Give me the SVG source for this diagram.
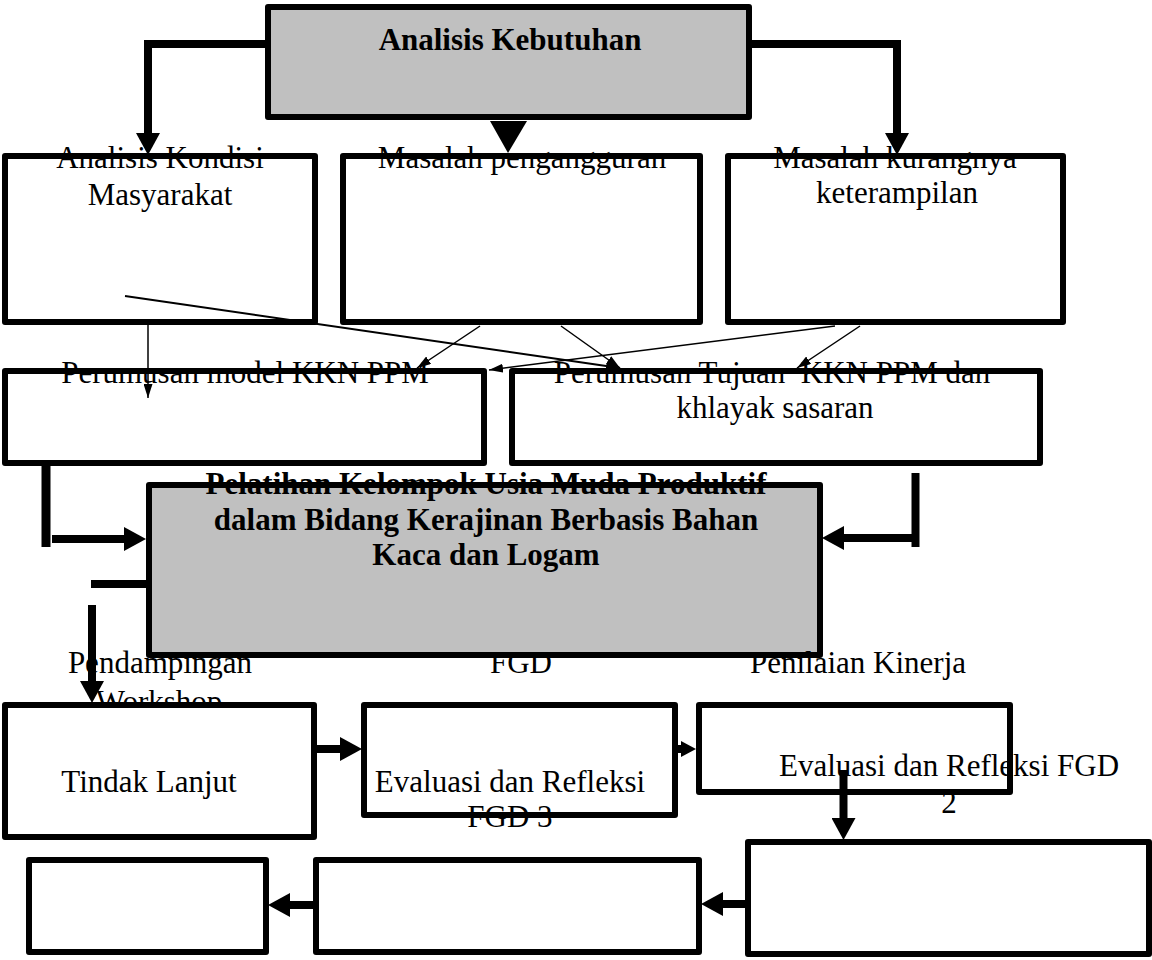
<svg xmlns="http://www.w3.org/2000/svg" width="1152" height="960" viewBox="0 0 1152 960">
<style>
.box{fill:#fff;stroke:#000;stroke-width:6;stroke-linejoin:round}
.gray{fill:#c0c0c0;stroke:#000;stroke-width:6;stroke-linejoin:round}
.t{font-family:"Liberation Serif","Times New Roman",serif;font-size:31px;fill:#000;text-anchor:middle;white-space:pre}
.b{font-weight:bold}
.thick{fill:none;stroke:#000;stroke-width:8}
.thin{fill:none;stroke:#000;stroke-width:1.5}
</style>
<defs>
<marker id="ah" markerUnits="userSpaceOnUse" markerWidth="22" markerHeight="24" refX="0" refY="12" orient="auto" viewBox="0 0 22 24"><path d="M0,0 L22,12 L0,24 z" fill="#000"/></marker>
<marker id="ahs" markerUnits="userSpaceOnUse" markerWidth="15" markerHeight="16" refX="0" refY="8" orient="auto" viewBox="0 0 15 16"><path d="M0,0 L15,8 L0,16 z" fill="#000"/></marker>
<marker id="ta" markerUnits="userSpaceOnUse" markerWidth="14" markerHeight="9" refX="14" refY="4.5" orient="auto" viewBox="0 0 14 9"><path d="M0,0 L14,4.5 L0,9 z" fill="#000"/></marker>
</defs>

<g id="analisis-kebutuhan"><rect class="gray" x="268" y="7" width="481" height="110"/><text class="t b" x="510" y="50">Analisis Kebutuhan</text></g>
<g id="analisis-kondisi"><rect class="box" x="5" y="156" width="310" height="166"/><text class="t" x="160" y="168">Analisis Kondisi</text><text class="t" x="160" y="205">Masyarakat</text></g>
<g id="masalah-pengangguran"><rect class="box" x="343" y="156" width="357" height="166"/><text class="t" x="522" y="168">Masalah pengangguran</text></g>
<g id="masalah-keterampilan"><rect class="box" x="728" y="156" width="335" height="166"/><text class="t" x="895" y="168">Masalah kurangnya</text><text class="t" x="897" y="203">keterampilan</text></g>
<g id="perumusan-model"><rect class="box" x="5" y="371" width="479" height="92"/><text class="t" x="245" y="383">Perumusan model KKN PPM</text></g>
<g id="perumusan-tujuan"><rect class="box" x="512" y="371" width="528" height="92"/><text class="t" x="772" y="383">Perumusan Tujuan  KKN PPM dan</text><text class="t" x="775" y="418">khlayak sasaran</text></g>
<g id="pelatihan"><rect class="gray" x="149" y="485" width="671" height="170"/><text class="t b" x="486" y="494">Pelatihan Kelompok Usia Muda Produktif</text><text class="t b" x="486" y="530">dalam Bidang Kerajinan Berbasis Bahan</text><text class="t b" x="486" y="565">Kaca dan Logam</text></g>
<g id="labels"><text class="t" x="160" y="673">Pendampingan</text><text class="t" x="159" y="712">Workshop</text><text class="t" x="521" y="673">FGD</text><text class="t" x="858" y="673">Penilaian Kinerja</text></g>
<g id="tindak-lanjut"><rect class="box" x="5" y="705" width="309" height="132"/><text class="t" x="149" y="792">Tindak Lanjut</text></g>
<g id="evaluasi-fgd3"><rect class="box" x="364" y="705" width="311" height="110"/><text class="t" x="510" y="792">Evaluasi dan Refleksi</text><text class="t" x="510" y="827">FGD 3</text></g>
<g id="evaluasi-fgd2"><rect class="box" x="699" y="705" width="311" height="87"/><text class="t" x="949" y="776">Evaluasi dan Refleksi FGD</text><text class="t" x="949" y="813">2</text></g>
<g id="box-d"><rect class="box" x="748" y="842" width="401" height="112"/></g>
<g id="box-e"><rect class="box" x="316" y="860" width="383" height="92"/></g>
<g id="box-f"><rect class="box" x="29" y="860" width="237" height="92"/></g>

<g id="connectors">
<path class="thick" d="M266,44 H148 V133" marker-end="url(#ah)"/>
<path class="thick" d="M751,44 H897 V133" marker-end="url(#ah)"/>
<polygon points="490,121 527,121 508,153" fill="#000"/>
<path class="thin" style="stroke-width:2" d="M125,296 L620,368" marker-end="url(#ta)"/>
<path class="thin" d="M148,325 L148,398" marker-end="url(#ta)"/>
<path class="thin" d="M480,326 L417,368" marker-end="url(#ta)"/>
<path class="thin" d="M561,326 L620,368" marker-end="url(#ta)"/>
<path class="thin" d="M835,326 L489,370" marker-end="url(#ta)"/>
<path class="thin" d="M860,326 L797,368" marker-end="url(#ta)"/>
<path class="thick" style="stroke-width:9" d="M46,465 V547"/>
<path class="thick" d="M52,539 H124" marker-end="url(#ah)"/>
<path class="thick" d="M915.5,473 V547"/>
<path class="thick" d="M915,538 H844" marker-end="url(#ah)"/>
<path class="thick" d="M91,584 H146"/>
<path class="thick" d="M92,605 V681" marker-end="url(#ah)"/>
<path class="thick" d="M317,749 H340" marker-end="url(#ah)"/>
<path class="thick" d="M678,749 H681" marker-end="url(#ahs)"/>
<path class="thick" d="M843.5,770 V818" marker-end="url(#ah)"/>
<path class="thick" d="M745,904 H723" marker-end="url(#ah)"/>
<path class="thick" d="M313,905 H290" marker-end="url(#ah)"/>
</g>
</svg>
